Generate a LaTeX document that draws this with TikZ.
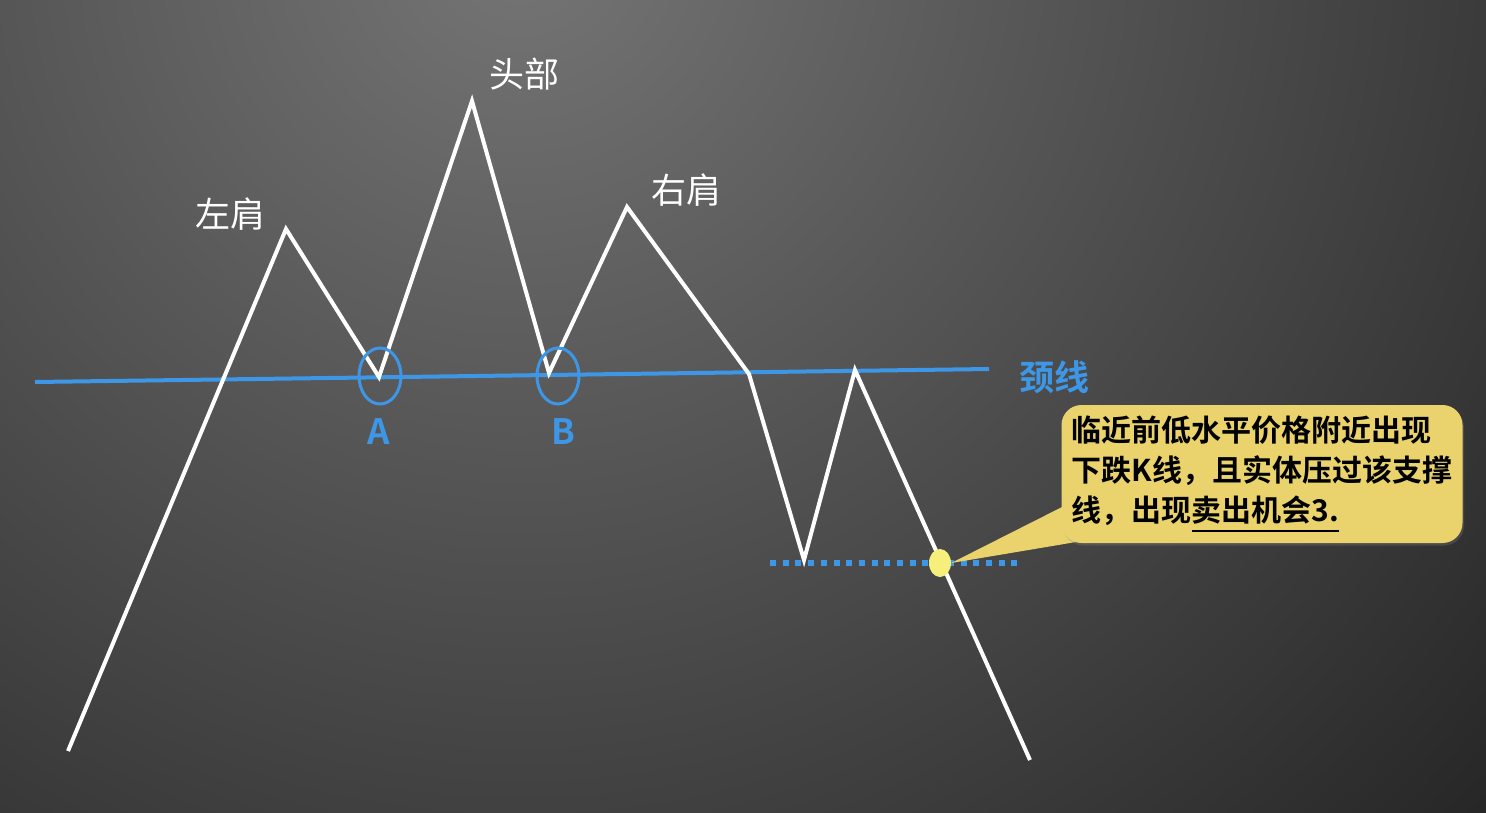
\documentclass[tikz,border=0pt]{standalone}
\usepackage{fontspec}
\setmainfont{Noto Sans CJK SC}[BoldFont={Noto Sans CJK SC Bold}]
\usetikzlibrary{shapes.geometric,shadows}

\definecolor{neckblue}{HTML}{3D97E6}
\definecolor{noteyellow}{HTML}{EAD36C}
\definecolor{dotyellow}{HTML}{F6EF7C}
\newcommand{\lowline}[1]{\setbox0\hbox{#1}\rlap{\rule[-11pt]{\wd0}{2pt}}\box0}

\begin{document}
\begin{tikzpicture}[x=1pt, y=-1pt,
	price/.style = {white, line width=4pt},
	tag/.style = {white, font=\fontsize{35}{40}\selectfont},
	ring/.style = {draw=neckblue, line width=3pt, ellipse, minimum width=42pt, minimum height=56pt, inner sep=0pt},
	letter/.style = {neckblue, font=\bfseries\fontsize{35}{40}\selectfont}]
\useasboundingbox (0,0) rectangle (1486,812);
\begin{scope}
	\clip (0,0) rectangle (1486,812);
	\shade[inner color=black!54, outer color=black!86] (520,-60) circle (1350);
\end{scope}

\coordinate (nl) at (35,382);
\coordinate (nr) at (989,369);
\draw[neckblue, line width=4pt] (nl)--(nr);
\node[neckblue, font=\bfseries\fontsize{35}{40}\selectfont] (neck) at (1054,377) {颈线};

\coordinate (sl) at (770,563);
\coordinate (sr) at (1020,563);
\draw[neckblue, line width=6pt, dash pattern=on 6pt off 6.7pt] (sl)--(sr);

\foreach \n/\p in {0/{68,751}, 1/{286,229}, 2/{379,377}, 3/{472,101}, 4/{549,373},
	5/{627,207}, 6/{749,374}, 7/{804,560}, 8/{855,370}, 9/{1030,760}}
	\coordinate (p\n) at (\p);
\draw[price] (p0)--(p1)--(p2)--(p3)--(p4)--(p5)--(p6)--(p7)--(p8)--(p9);

\node[tag] (lshoulder) at (230,214) {左肩};
\node[tag] (head) at (524,74) {头部};
\node[tag] (rshoulder) at (686,190) {右肩};

\node[ring] (ringA) at (380,376) {};
\node[ring] (ringB) at (558,376) {};
\node[letter] (A) at (379,432) {A};
\node[letter] (B) at (563,432) {B};

\node[fill=dotyellow, ellipse, minimum width=22pt, minimum height=28pt, inner sep=0pt] (dot) at (940,563) {};

\coordinate (pu) at (1066,505);
\coordinate (pd) at (1082,541);
\fill[noteyellow] (pu)--(dot.east)--(pd)--cycle;
\node[fill=noteyellow, rounded corners=20pt, minimum width=401pt, minimum height=138pt,
	align=left, inner sep=0pt, drop shadow={opacity=0.3, shadow xshift=1.5pt, shadow yshift=-2.5pt},
	font=\bfseries\fontsize{30}{40}\selectfont] (note) at (1262,474)
	{临近前低水平价格附近出现\\下跌K线，且实体压过该支撑\\线，出现\lowline{卖出机会3.}};
\end{tikzpicture}
\end{document}
